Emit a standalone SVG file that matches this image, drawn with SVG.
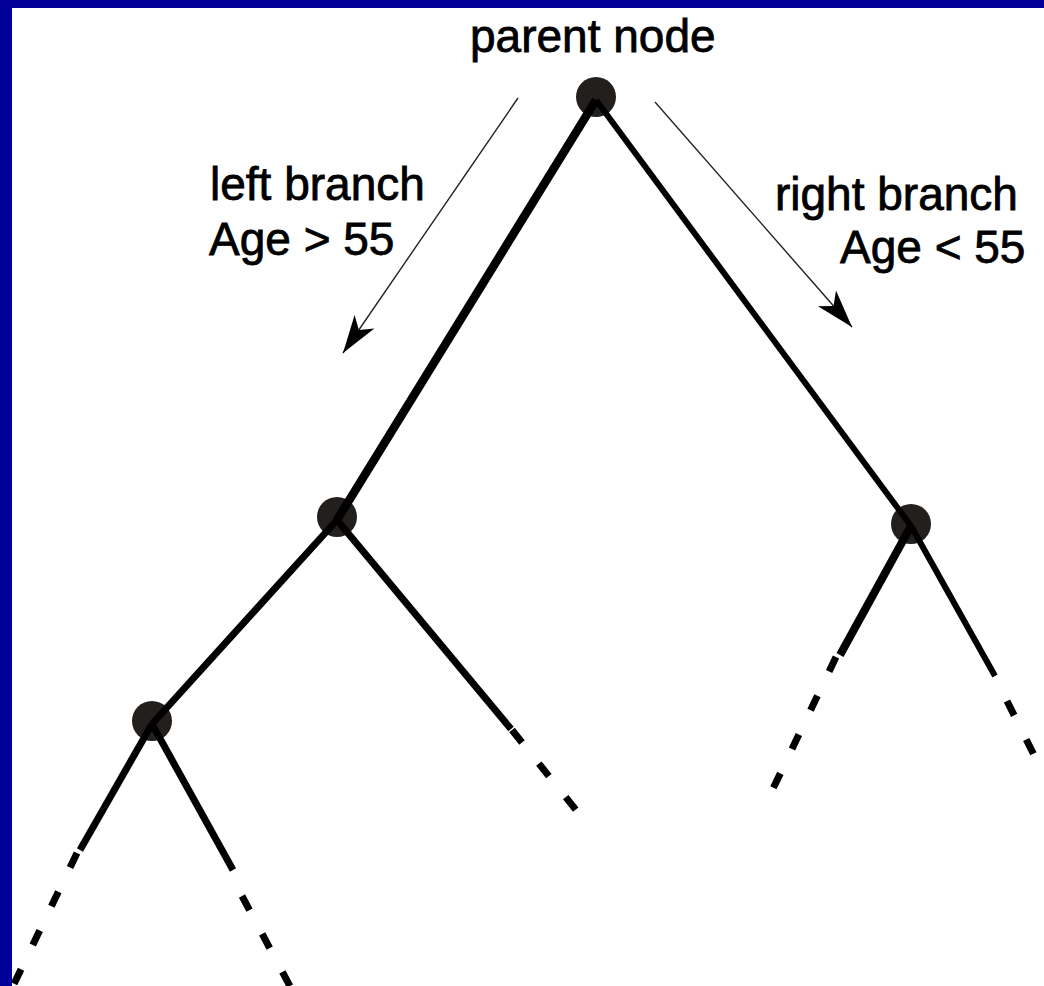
<svg xmlns="http://www.w3.org/2000/svg" width="1044" height="986" viewBox="0 0 1044 986">
  <defs>
    <style>
      .lbl { font-family: "Liberation Sans", Arial, sans-serif; font-size: 46px; fill: #000; stroke: #000; stroke-width: 0.8; }
      .node { fill: #231f1d; }
      .edge { stroke: #000; stroke-width: 7; fill: none; stroke-linecap: butt; }
      .cont { stroke: #000; stroke-width: 7; fill: none; stroke-dasharray: 16 27; }
      .pointer { stroke: #222; stroke-width: 1.4; fill: none; marker-end: url(#head); }
    </style>
    <marker id="head" markerUnits="userSpaceOnUse" markerWidth="42" markerHeight="30" viewBox="-40 -15 42 30" refX="0" refY="0" orient="auto">
      <path d="M0,0 L-38,-12 L-28,0 L-38,12 Z" fill="#000"/>
    </marker>
  </defs>

  <!-- frame -->
  <rect x="0" y="0" width="1044" height="986" fill="#fff"/>
  <rect x="0" y="0" width="1044" height="8" fill="#000099"/>
  <rect x="0" y="0" width="12" height="986" fill="#000099"/>

  <!-- tree nodes -->
  <g id="node-parent"><circle class="node" cx="596" cy="97" r="20"/></g>
  <g id="node-left"><circle class="node" cx="337" cy="517" r="20"/></g>
  <g id="node-right"><circle class="node" cx="911" cy="524" r="20"/></g>
  <g id="node-left-left"><circle class="node" cx="152" cy="721" r="20"/></g>

  <!-- branches -->
  <g id="connectors">
    <line class="edge" x1="596" y1="100" x2="337" y2="520" style="stroke-width:8.5"/>
    <line class="edge" x1="596" y1="100" x2="911" y2="526" style="stroke-width:6"/>
    <line class="edge" x1="337" y1="520" x2="152" y2="724"/>
    <line class="edge" x1="337" y1="520" x2="511" y2="729"/>
    <path class="cont" d="M512,730 L580,815"/>
    <line class="edge" x1="911" y1="526" x2="840" y2="655" style="stroke-width:8"/>
    <path class="cont" d="M836,657 L770,795"/>
    <line class="edge" x1="911" y1="526" x2="995" y2="676" style="stroke-width:6"/>
    <path class="cont" d="M1007,701 L1044,775"/>
    <line class="edge" x1="152" y1="724" x2="80" y2="850"/>
    <path class="cont" d="M77,853 L12,988"/>
    <line class="edge" x1="152" y1="724" x2="233" y2="870"/>
    <path class="cont" d="M242,896 L292,990"/>
  </g>

  <!-- direction pointers -->
  <g id="pointers">
    <line class="pointer" x1="518" y1="98" x2="343" y2="353"/>
    <line class="pointer" x1="655" y1="102" x2="852" y2="327"/>
  </g>

  <!-- labels -->
  <g id="labels">
    <text class="lbl" x="470" y="52">parent node</text>
    <text class="lbl" x="210" y="200">left branch</text>
    <text class="lbl" x="209" y="255">Age &gt; 55</text>
    <text class="lbl" x="775" y="210">right branch</text>
    <text class="lbl" x="840" y="263">Age &lt; 55</text>
  </g>
</svg>
